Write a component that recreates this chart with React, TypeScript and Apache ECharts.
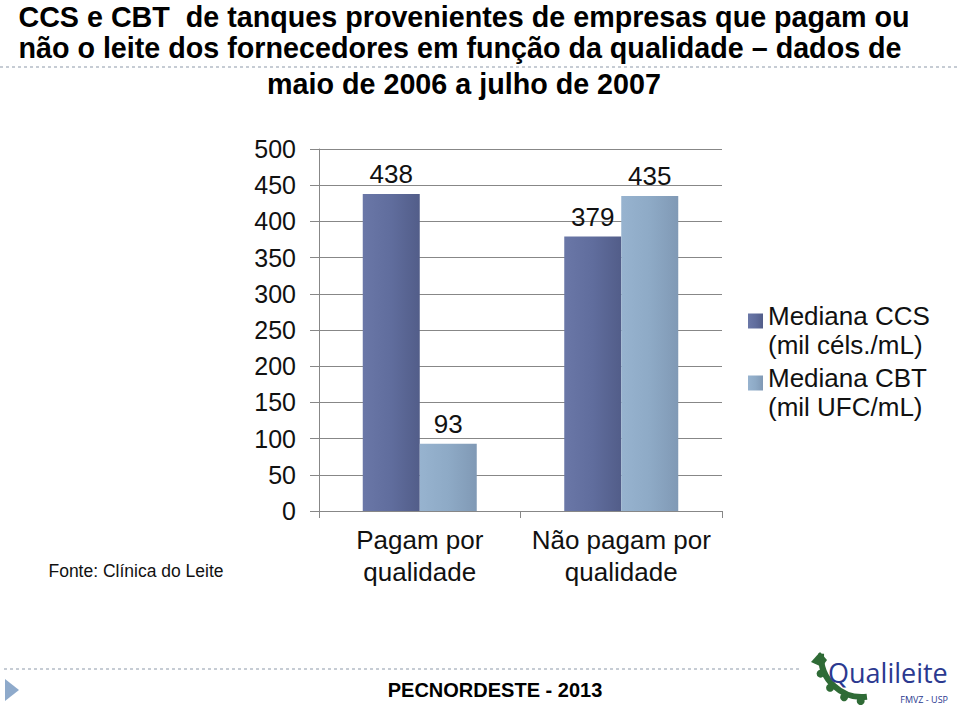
import React, { useEffect, useRef } from "react";
import * as echarts from "echarts";

const categories = ["Pagam por\nqualidade", "Não pagam por\nqualidade"];
const seriesNames = ["Mediana CCS\n(mil céls./mL)", "Mediana CBT\n(mil UFC/mL)"];
const ccsValues = [438, 379];
const cbtValues = [93, 435];
const titleLines = [
  "CCS e CBT  de tanques provenientes de empresas que pagam ou",
  "não o leite dos fornecedores em função da qualidade – dados de",
  "maio de 2006 a julho de 2007",
];
const sourceText = "Fonte: Clínica do Leite";
const footerText = "PECNORDESTE - 2013";

const FONT = "Liberation Sans, Arial, Helvetica, sans-serif";

function grad(a: string, b: string, c: string) {
  return new echarts.graphic.LinearGradient(0, 0, 1, 0, [
    { offset: 0, color: a },
    { offset: 0.5, color: b },
    { offset: 1, color: c },
  ]);
}

export default function App() {
  const ref = useRef<HTMLDivElement>(null);
  useEffect(() => {
    if (!ref.current) return;
    const chart = echarts.init(ref.current, undefined, { renderer: "svg" });
    const legendText = {
      color: "#111",
      fontFamily: FONT,
      rich: {
        s: { fontSize: 10, lineHeight: 18, fontFamily: FONT },
        a: { fontSize: 26, lineHeight: 29, color: "#111", fontFamily: FONT },
      },
    };
    const legendFormatter = (name: string) => {
      const parts = name.split("\n");
      return `{s| }\n{a|${parts[0]}}\n{a|${parts[1]}}`;
    };
    const teeth = [1.6, 1.98, 2.36, 2.74].map((a) => ({
      type: "circle",
      shape: { cx: 862 + Math.cos(a) * 45, cy: 656 + Math.sin(a) * 45, r: 4 },
      style: { fill: "#2f6b36" },
    }));
    chart.setOption({
      animation: false,
      backgroundColor: "#ffffff",
      textStyle: { fontFamily: FONT },
      grid: { left: 319, right: 238, top: 149, bottom: 206, containLabel: false },
      legend: [
        {
          data: [seriesNames[0]],
          left: 748,
          top: 287,
          padding: 0,
          itemWidth: 15,
          itemHeight: 15,
          icon: "rect",
          formatter: legendFormatter,
          textStyle: legendText,
        },
        {
          data: [seriesNames[1]],
          left: 748,
          top: 349,
          padding: 0,
          itemWidth: 15,
          itemHeight: 15,
          icon: "rect",
          formatter: legendFormatter,
          textStyle: legendText,
        },
      ],
      xAxis: {
        type: "category",
        data: categories,
        axisLine: { show: true, lineStyle: { color: "#878787", width: 1 } },
        axisTick: { show: true, length: 7, lineStyle: { color: "#878787" } },
        axisLabel: {
          interval: 0,
          fontSize: 26,
          lineHeight: 32,
          color: "#111",
          margin: 13,
          fontFamily: FONT,
        },
      },
      yAxis: {
        type: "value",
        min: 0,
        max: 500,
        interval: 50,
        axisLine: { show: true, lineStyle: { color: "#878787", width: 1 } },
        axisTick: { show: true, length: 9, lineStyle: { color: "#878787" } },
        splitLine: { show: true, lineStyle: { color: "#878787", width: 1 } },
        axisLabel: { fontSize: 25, color: "#111", margin: 23, fontFamily: FONT },
      },
      series: [
        {
          name: seriesNames[0],
          type: "bar",
          data: ccsValues,
          barWidth: 57,
          barGap: "0%",
          itemStyle: { color: grad("#6a77a7", "#606d9d", "#525d89") },
          label: {
            show: true,
            position: "top",
            distance: 7,
            fontSize: 26,
            color: "#111",
            fontFamily: FONT,
          },
        },
        {
          name: seriesNames[1],
          type: "bar",
          data: cbtValues,
          barWidth: 57,
          barGap: "0%",
          itemStyle: { color: grad("#97b3cf", "#8eaac6", "#8099b5") },
          label: {
            show: true,
            position: "top",
            distance: 7,
            fontSize: 26,
            color: "#111",
            fontFamily: FONT,
          },
        },
      ],
      graphic: [
        {
          type: "line",
          shape: { x1: 0, y1: 67, x2: 960, y2: 67 },
          style: { stroke: "#b4bcc6", lineWidth: 1.5, lineDash: [3, 3] },
          z: 0,
        },
        {
          type: "line",
          shape: { x1: 4, y1: 669, x2: 800, y2: 669 },
          style: { stroke: "#b4bcc6", lineWidth: 1.5, lineDash: [3, 3] },
          z: 0,
        },
        ...titleLines.map((t, i) => ({
          type: "text",
          x: i === 1 ? 460 : 464,
          y: [17, 48, 84][i],
          z: 10,
          style: {
            text: t,
            fontSize: 28.7,
            fontWeight: "bold",
            fontFamily: FONT,
            fill: "#000",
            align: "center",
            verticalAlign: "middle",
          },
        })),
        {
          type: "text",
          x: 136,
          y: 571,
          style: {
            text: sourceText,
            fontSize: 17.5,
            fontFamily: FONT,
            fill: "#111",
            align: "center",
            verticalAlign: "middle",
          },
        },
        {
          type: "text",
          x: 495,
          y: 690,
          style: {
            text: footerText,
            fontSize: 20,
            fontWeight: "bold",
            fontFamily: FONT,
            fill: "#000",
            align: "center",
            verticalAlign: "middle",
          },
        },
        {
          type: "polygon",
          shape: { points: [[5, 679], [19, 690], [5, 701]] },
          style: { fill: "#8eaacb" },
        },
        {
          type: "arc",
          shape: { cx: 862, cy: 656, r: 41, startAngle: 1.45, endAngle: 3.2 },
          style: { stroke: "#2f6b36", lineWidth: 6, fill: "none" },
        },
        ...teeth,
        {
          type: "polygon",
          shape: { points: [[811, 662], [820, 652], [827, 660], [822, 667]] },
          style: { fill: "#2f6b36" },
        },
        {
          type: "text",
          x: 828,
          y: 672,
          style: {
            text: "Qualileite",
            fontSize: 27,
            fontFamily: "Open Sans, Noto Sans, sans-serif",
            fill: "#2b3990",
            align: "left",
            verticalAlign: "middle",
          },
        },
        {
          type: "text",
          x: 948,
          y: 699,
          style: {
            text: "FMVZ - USP",
            fontSize: 9,
            fontFamily: "Open Sans, Noto Sans, sans-serif",
            fill: "#2b3990",
            align: "right",
            verticalAlign: "middle",
          },
        },
      ],
    });
    return () => chart.dispose();
  }, []);
  return (
    <div
      ref={ref}
      style={{ position: "fixed", left: 0, top: 0, width: 960, height: 717, background: "#fff" }}
    />
  );
}
